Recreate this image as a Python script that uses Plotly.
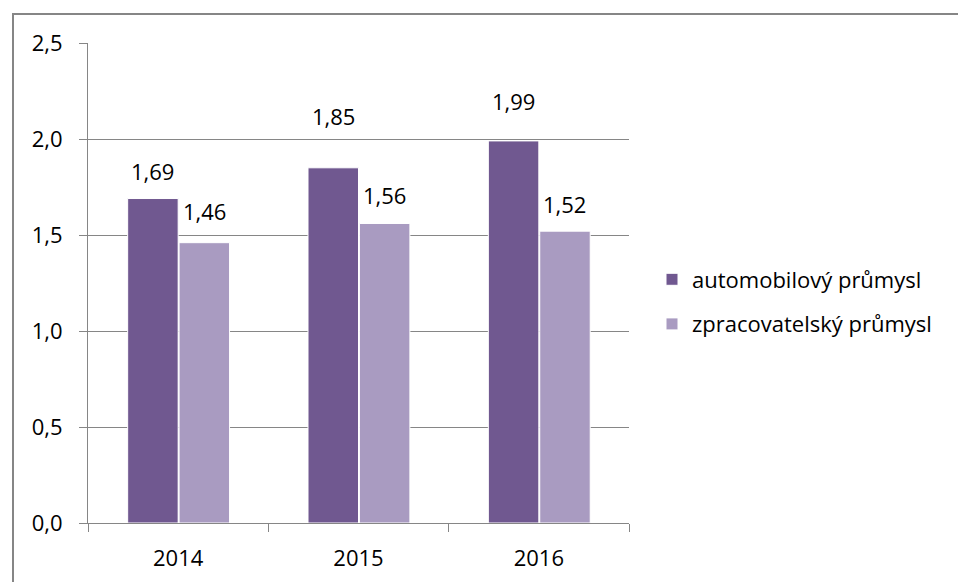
import plotly.graph_objects as go

years = ["2014", "2015", "2016"]
auto_vals = [1.69, 1.85, 1.99]
proc_vals = [1.46, 1.56, 1.52]
series_names = ["automobilový průmysl", "zpracovatelský průmysl"]
colors = ["#705890", "#a99bc1"]

# vertical pixel lift of each value label above its bar top
auto_label_lift = [28, 52, 40]
proc_label_lift = [32, 28, 27]

W, H = 958, 582
L, R, T, B = 88, 329, 43, 59
FONT = "Open Sans"
FS = 22
GRAY = "#868686"

bar_w = 0.28
offsets = [-0.28, 0.005]

fig = go.Figure()
for name, vals, col, off in zip(series_names, [auto_vals, proc_vals], colors, offsets):
    fig.add_trace(go.Bar(
        x=years, y=vals, name=name, legendgroup=name,
        width=bar_w, offset=off,
        marker=dict(color=col, line=dict(color="white", width=1)),
    ))

# value labels above each bar
annotations = []
for vals, off, lifts in zip([auto_vals, proc_vals], offsets, [auto_label_lift, proc_label_lift]):
    for i, (v, lift) in enumerate(zip(vals, lifts)):
        annotations.append(dict(
            x=i + off + bar_w / 2, y=v, xref="x", yref="y",
            text=f"{v:.2f}".replace(".", ","), showarrow=False,
            yanchor="middle", yshift=lift,
            font=dict(family=FONT, size=FS, color="black"),
        ))

pw = W - L - R
ph = H - T - B
def px_x(p):
    return (p - L) / pw
def px_y(p):
    return (H - B - p) / ph

# outer chart frame (top and left edges visible)
shapes = [
    dict(type="line", xref="paper", yref="paper", x0=px_x(13), x1=px_x(W + 5),
         y0=px_y(14), y1=px_y(14), line=dict(color=GRAY, width=2)),
    dict(type="line", xref="paper", yref="paper", x0=px_x(13), x1=px_x(13),
         y0=px_y(13), y1=px_y(H + 5), line=dict(color=GRAY, width=2)),
]

fig.update_layout(
    width=W, height=H,
    margin=dict(l=L, r=R, t=T, b=B, pad=0, autoexpand=False),
    paper_bgcolor="white", plot_bgcolor="white",
    separators=", ",
    font=dict(family=FONT, size=FS, color="black"),
    bargap=0.445,
    annotations=annotations,
    shapes=shapes,
    showlegend=True,
    legend=dict(
        x=px_x(652), y=px_y(302), xanchor="left", yanchor="middle",
        traceorder="grouped", tracegroupgap=13,
        font=dict(family=FONT, size=FS, color="black"),
        bgcolor="rgba(0,0,0,0)",
    ),
    xaxis=dict(
        type="category", categoryorder="array", categoryarray=years,
        range=[-0.5, 2.5], tickson="boundaries", automargin=False,
        ticks="outside", ticklen=8, tickcolor=GRAY, tickwidth=1,
        showline=True, linecolor=GRAY, linewidth=1,
        showgrid=False, zeroline=False,
        ticklabelstandoff=16,
        tickfont=dict(family=FONT, size=FS, color="black"),
    ),
    yaxis=dict(
        range=[0, 2.5], dtick=0.5, tick0=0, tickformat=".1f", automargin=False,
        ticks="outside", ticklen=8, tickcolor=GRAY, tickwidth=1,
        showline=True, linecolor=GRAY, linewidth=1,
        showgrid=True, gridcolor=GRAY, gridwidth=1,
        zeroline=False,
        ticklabelstandoff=12,
        tickfont=dict(family=FONT, size=FS, color="black"),
    ),
)

fig.write_html("out.html")
